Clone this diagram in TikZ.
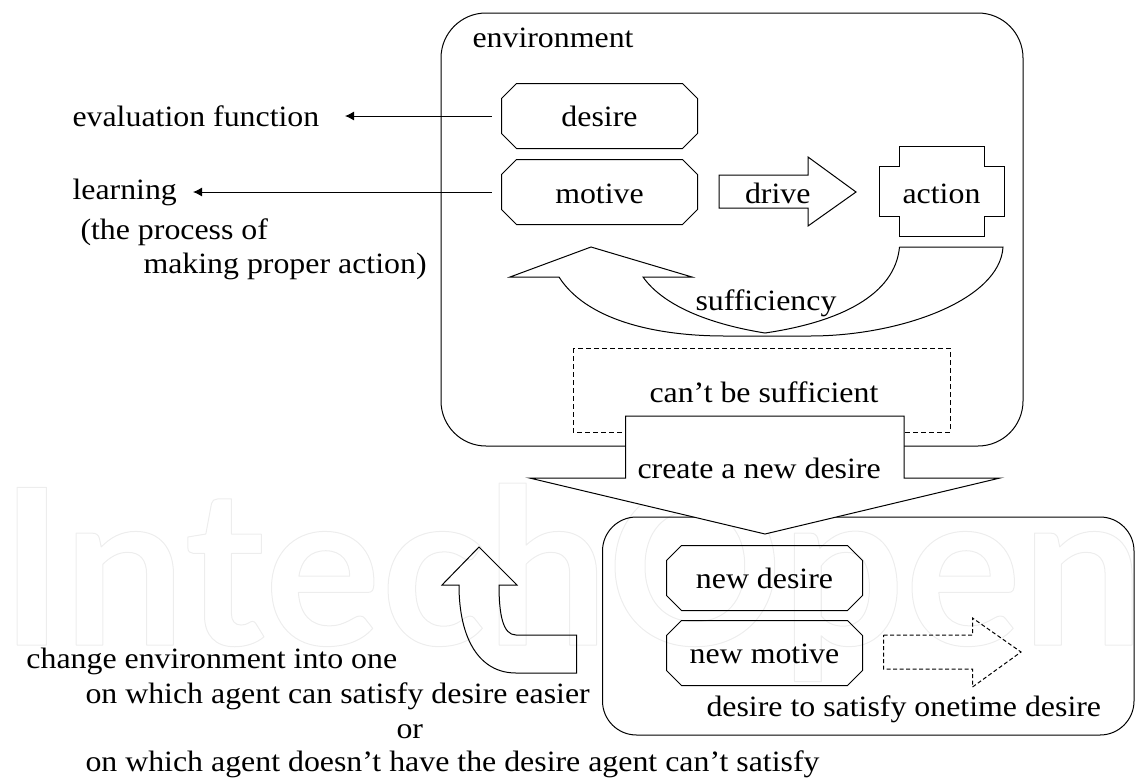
\documentclass[tikz,border=0pt]{standalone}
\usepackage{fontspec}
\setmainfont[FakeStretch=1.08]{Liberation Serif}
\newfontfamily\wmfont{Lato}
\usetikzlibrary{arrows.meta}
\tikzset{
  every picture/.style={x=1pt,y=-1pt,line width=1pt,line join=miter},
  lab/.style={anchor=base west,inner sep=0pt,yshift=-1pt,font=\fontsize{29.5}{32}\selectfont},
  clab/.style={anchor=base,inner sep=0pt,yshift=-1pt,font=\fontsize{29.5}{32}\selectfont},
  octabox/.style={minimum width=195pt,minimum height=64pt,inner sep=0pt},
  conn/.style={-{Latex[length=9pt,width=9pt]},line width=1pt},
}
\newcommand\octa[1]{%
  \draw ([xshift=15pt]#1.north west) -- ([xshift=-15pt]#1.north east)
    -- ([yshift=-15pt]#1.north east) -- ([yshift=15pt]#1.south east)
    -- ([xshift=-15pt]#1.south east) -- ([xshift=15pt]#1.south west)
    -- ([yshift=15pt]#1.south west) -- ([yshift=-15pt]#1.north west) -- cycle;}
\begin{document}
\begin{tikzpicture}
\useasboundingbox (0,0) rectangle (1135,777);
% watermark
\node[anchor=base west,inner sep=0pt,font=\wmfont\bfseries\fontsize{218}{218}\selectfont] (wm) at (-1,645)
  {\special{pdf:code q 1 Tr 1 J 1 j 1 w 0.93 0.93 0.93 RG}IntechOpen\special{pdf:code Q}};
% environment
\draw[rounded corners=45pt] (441,13) rectangle (1023,446);
\node[lab] (env) at (472,46) {environment};
% boxes
\node[octabox] (desire) at (599.5,116) {}; \octa{desire}
\node[octabox] (motive) at (599.5,192) {}; \octa{motive}
\node[clab] (tdesire) at (599.5,125) {desire};
\node[clab] (tmotive) at (599.5,202) {motive};
% drive arrow
\draw (719,175) -- (808,175) -- (808,157) -- (856,192) -- (808,226) -- (808,208) -- (719,208) -- cycle;
\node[lab] (drive) at (744.5,202) {drive};
% action
\draw (899,146) -- (984,146) -- (984,166) -- (1004.5,166) -- (1004.5,216) -- (984,216) -- (984,236) -- (899,236) -- (899,216) -- (879,216) -- (879,166) -- (899,166) -- cycle;
\node[clab] (action) at (941.5,202) {action};
% sufficiency arrow
\draw (899.5,247) -- (1003,247)
  .. controls (1000,300) and (900,336) .. (810,336)
  -- (725,336)
  .. controls (650,336) and (585,318) .. (559,277)
  -- (510,277) -- (591,247) -- (692,277) -- (643,277)
  .. controls (665,308) and (715,325) .. (765,333)
  .. controls (840,322) and (895,295) .. (899.5,247);
\node[lab] (suff) at (695,309) {sufficiency};
% dashed
\draw[dash pattern=on 5pt off 3pt] (573,348) rectangle (950,432);
\node[lab] (cant) at (649,401) {can’t be sufficient};
% lower box
\draw[rounded corners=34pt] (602.5,517) rectangle (1134,735);
% create arrow
\draw[fill=white] (625.5,416) -- (904,416) -- (904,478) -- (1000,478) -- (765,534) -- (529.5,478) -- (625.5,478) -- cycle;
\node[lab] (create) at (637,477) {create a new desire};
% new boxes
\node[octabox] (ndesire) at (764.5,578) {}; \octa{ndesire}
\node[octabox] (nmotive) at (764.5,653) {}; \octa{nmotive}
\node[clab] (tndesire) at (764.5,587) {new desire};
\node[clab] (tnmotive) at (764.5,662) {new motive};
% dashed arrow
\draw[dash pattern=on 4pt off 2.5pt] (883.5,635) -- (972.5,635) -- (972.5,618) -- (1021,652) -- (972.5,687) -- (972.5,669) -- (883.5,669) -- cycle;
\node[lab] (dsat) at (706,715) {desire to satisfy onetime desire};
% up arrow
\draw (479,547) -- (517,585) -- (499,585) .. controls (499,615) and (503,635) .. (516,635) -- (576.5,635) -- (576.5,673) -- (516,673) .. controls (480,673) and (459,640) .. (459,585) -- (442,585) -- cycle;
% left labels
\node[lab] (eval) at (72,125) {evaluation function};
\node[lab] (learn) at (72,198) {learning};
\node[lab] (proc) at (80,238) {(the process of};
\node[lab] (mak) at (143,272) {making proper action)};
\coordinate (evaltip) at (345,116);
\coordinate (learntip) at (193,192);
\draw[conn,shorten <=10pt] (desire.west) -- (evaltip);
\draw[conn,shorten <=10pt] (motive.west) -- (learntip);
% bottom text
\node[lab] (c1) at (26,667) {change environment into one};
\node[lab] (c2) at (85,702) {on which agent can satisfy desire easier};
\node[lab] (c3) at (396,737) {or};
\node[lab] (c4) at (85,770) {on which agent doesn’t have the desire agent can’t satisfy};
\end{tikzpicture}
\end{document}
